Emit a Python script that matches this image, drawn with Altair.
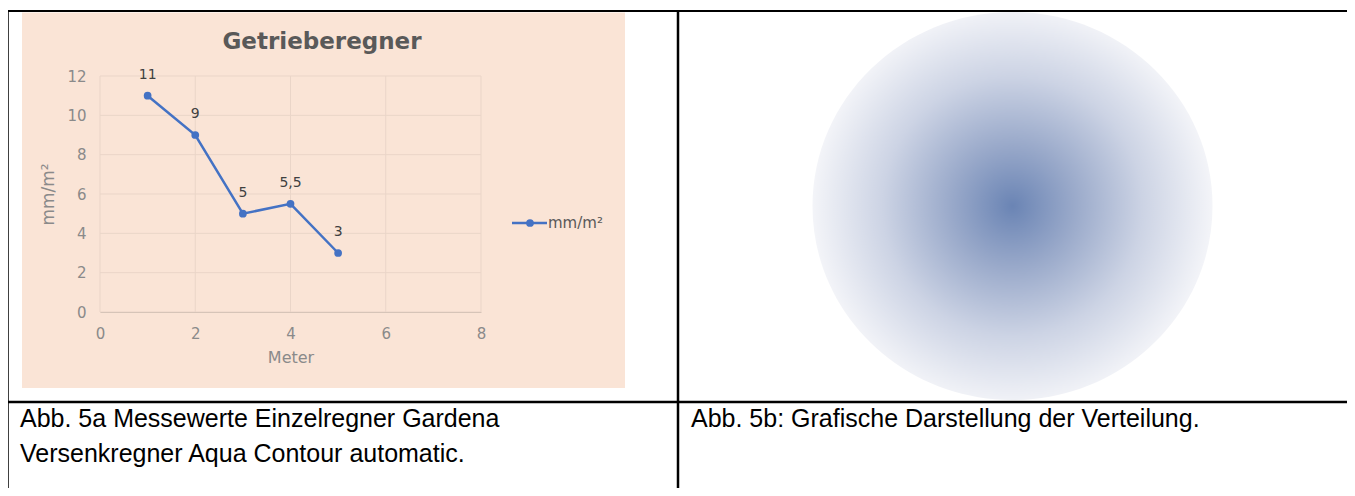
import altair as alt
import pandas as pd

# ---- data ----
meter = [1, 2, 3, 4, 5]
mm_per_m2 = [11, 9, 5, 5.5, 3]
point_labels = ["11", "9", "5", "5,5", "3"]
x_ticks = [0, 2, 4, 6, 8]
y_ticks = [0, 2, 4, 6, 8, 10, 12]
chart_title = "Getrieberegner"
series_name = "mm/m²"
x_title = "Meter"
y_title = "mm/m²"
caption_left = ["Abb. 5a Messewerte Einzelregner Gardena", "Versenkregner Aqua Contour automatic."]
caption_right = ["Abb. 5b: Grafische Darstellung der Verteilung."]
gradient_offsets = [0.0, 0.3, 0.65, 1.0]
gradient_colors = ["#6A84B4", "#98A8C9", "#CCD3E4", "#F3F4F8"]

df = pd.DataFrame({"Meter": meter, "mm": mm_per_m2, "label": point_labels})
gx = pd.DataFrame({"Meter": x_ticks})
gy = pd.DataFrame({"mm": y_ticks})
one = pd.DataFrame({"a": [0]})

# ---- layout (page pixels) ----
W, H = 381, 236
PL, PT = 92, 68          # plot origin at page (100, 76)
OX, OY = 8 + PL, 8 + PT


def px(v):
    return v - OX


def py(v):
    return v - OY


FONT = "DejaVu Sans"
xs = alt.Scale(domain=[0, 8], nice=False, zero=False)
ys = alt.Scale(domain=[0, 12], nice=False, zero=False)

x_axis = alt.Axis(values=x_ticks, grid=False, ticks=False, domain=True,
                  domainColor="#D6C4B8", domainWidth=1.2, labelFlush=False,
                  labelFont=FONT, labelFontSize=15, labelColor="#8A8A8A",
                  labelPadding=14, titleFont=FONT, titleFontSize=16,
                  titleFontWeight="normal", titleColor="#8A8A8A",
                  titlePadding=8, zindex=1)
y_axis = alt.Axis(values=y_ticks, grid=False, ticks=False, domain=False,
                  labelFont=FONT, labelFontSize=15, labelColor="#8A8A8A",
                  labelPadding=14, titleFont=FONT, titleFontSize=17,
                  titleFontWeight="normal", titleColor="#8A8A8A",
                  titlePadding=9, zindex=1)


def X():
    return alt.X("Meter:Q", scale=xs, title=x_title, axis=x_axis)


def Y():
    return alt.Y("mm:Q", scale=ys, title=y_title, axis=y_axis)


bg = alt.Chart(one).mark_rect(color="#FAE4D6").encode(
    x=alt.value(px(22)), x2=alt.value(px(625)),
    y=alt.value(py(12.5)), y2=alt.value(py(388)))

hgrid = alt.Chart(gy).mark_rule(color="#EAD5C8", strokeWidth=1).encode(y=Y())
vgrid = alt.Chart(gx).mark_rule(color="#EAD5C8", strokeWidth=1).encode(x=X())

line = alt.Chart(df).mark_line(color="#4472C4", strokeWidth=2.5).encode(x=X(), y=Y())
pts = alt.Chart(df).mark_point(filled=True, size=60, color="#4472C4", opacity=1).encode(
    x=X(), y=Y())
lbls = alt.Chart(df).mark_text(dy=-21, font=FONT, fontSize=14, color="#404040").encode(
    x=X(), y=Y(), text="label:N")

title_t = alt.Chart(one).mark_text(font=FONT, fontSize=23, fontWeight="bold",
                                   color="#595959", baseline="middle").encode(
    x=alt.value(px(322)), y=alt.value(py(42)), text=alt.value(chart_title))

leg_line = alt.Chart(one).mark_rule(color="#4472C4", strokeWidth=2.5).encode(
    x=alt.value(px(512)), x2=alt.value(px(547)), y=alt.value(py(223)))
leg_pt = alt.Chart(one).mark_point(filled=True, size=60, color="#4472C4", opacity=1).encode(
    x=alt.value(px(530)), y=alt.value(py(223)))
leg_txt = alt.Chart(one).mark_text(font=FONT, fontSize=15, color="#595959",
                                   align="left", baseline="middle").encode(
    x=alt.value(px(548)), y=alt.value(py(223)), text=alt.value(series_name))

grad = alt.RadialGradient(
    gradient="radial",
    stops=[alt.GradientStop(offset=o, color=c) for o, c in zip(gradient_offsets, gradient_colors)],
    x1=0.5, y1=0.5, r1=0, x2=0.5, y2=0.5, r2=0.5)
blob = alt.Chart(one).mark_point(
    shape="M-1,0A1,0.97,0,1,0,1,0A1,0.97,0,1,0,-1,0Z",
    filled=True, fill=grad, opacity=1, strokeWidth=0, size=400 * 400).encode(
    x=alt.value(px(1012.5)), y=alt.value(py(206)))


def rule(x1, x2, y1, y2, w):
    return alt.Chart(one).mark_rule(color="#000000", strokeWidth=w).encode(
        x=alt.value(px(x1)), x2=alt.value(px(x2)),
        y=alt.value(py(y1)), y2=alt.value(py(y2)))


borders = [
    rule(6, 1351, 11, 11, 2),
    rule(7.5, 7.5, 10, 500, 2.5),
    rule(678, 678, 10, 500, 2.5),
    rule(1349.5, 1349.5, 10, 500, 2.5),
    rule(6, 1351, 402, 402, 2.5),
]

cap_l = alt.Chart(one).mark_text(font="Liberation Sans", fontSize=25, color="#000000",
                                 align="left", baseline="alphabetic", lineHeight=35).encode(
    x=alt.value(px(20)), y=alt.value(py(427)), text=alt.value(caption_left))
cap_r = alt.Chart(one).mark_text(font="Liberation Sans", fontSize=25, color="#000000",
                                 align="left", baseline="alphabetic", lineHeight=35).encode(
    x=alt.value(px(691)), y=alt.value(py(427)), text=alt.value(caption_right))

chart = alt.layer(
    bg, hgrid, vgrid, line, pts, lbls, title_t, leg_line, leg_pt, leg_txt,
    blob, *borders, cap_l, cap_r
).properties(
    width=W, height=H,
    autosize=alt.AutoSizeParams(type="none"),
    padding={"left": PL, "top": PT, "right": 1339 - PL - W, "bottom": 480 - PT - H},
    background="#FFFFFF",
).configure_view(strokeWidth=0)

chart.save("out.html", embed_options={"renderer": "svg", "actions": False})
